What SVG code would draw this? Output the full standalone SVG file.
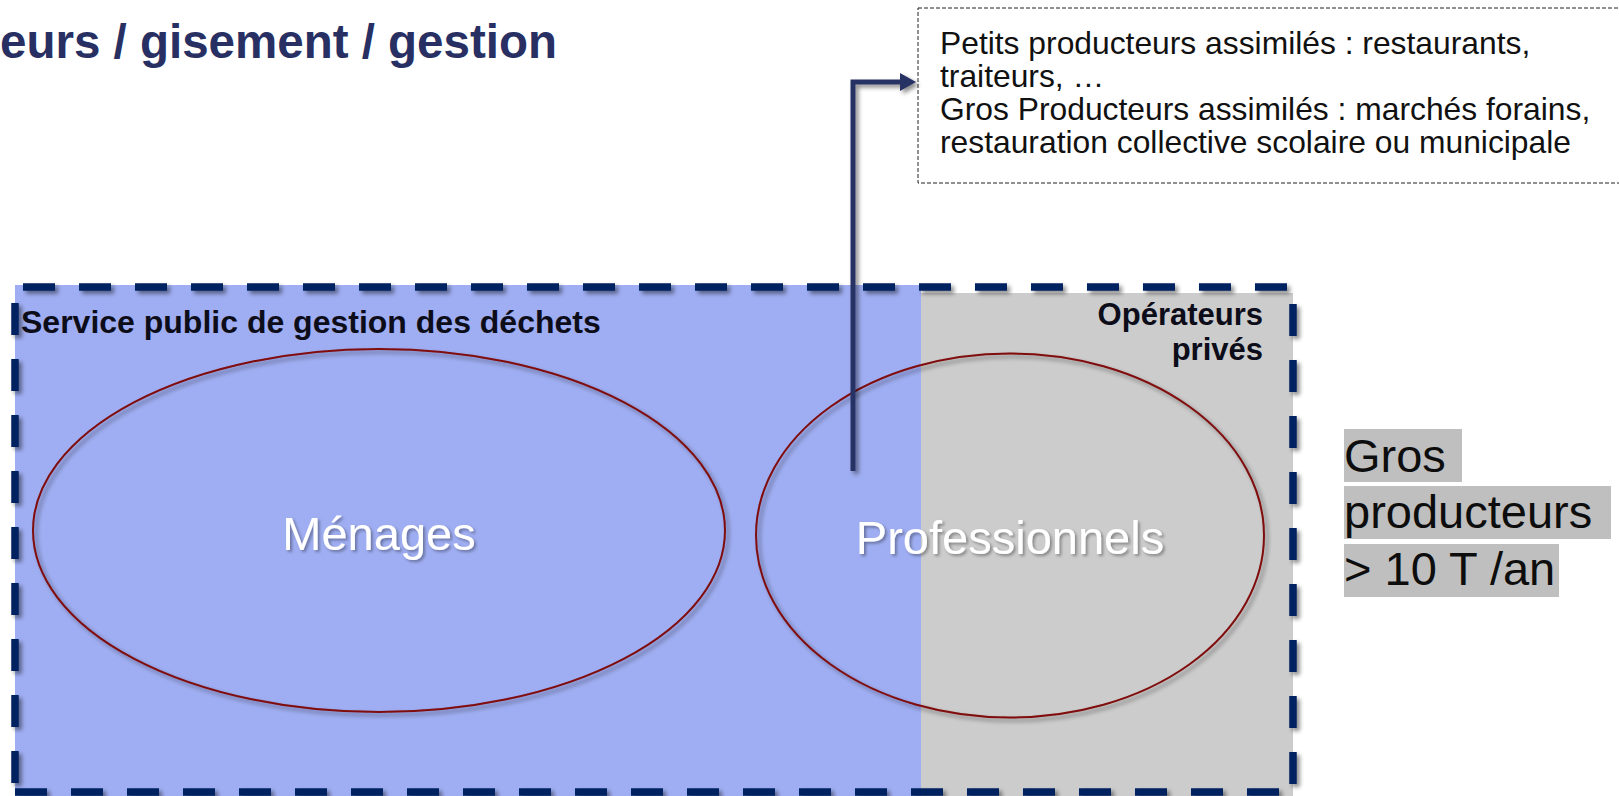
<svg xmlns="http://www.w3.org/2000/svg" width="1619" height="796" viewBox="0 0 1619 796">
<defs>
<style>
.title{font-family:"Liberation Sans",Arial,sans-serif;font-weight:bold;font-size:47.5px;fill:#283063}
.lbl{font-family:"Liberation Sans",Arial,sans-serif;font-weight:bold;fill:#0d0d1a}
.big{font-family:"Liberation Sans",Arial,sans-serif;font-size:47px;fill:#ffffff;text-anchor:middle}
.note{font-family:"Liberation Sans",Arial,sans-serif;font-size:31.8px;fill:#111111}
.gros{font-family:"Liberation Sans",Arial,sans-serif;font-size:47px;fill:#0d0d0d}
.dash{fill:none;stroke:#002060;stroke-width:7.5;stroke-dasharray:32 24}
.ell{fill:none;stroke:#7f0a0a;stroke-width:2}
</style>
<filter id="sh" x="-10%" y="-10%" width="120%" height="120%">
<feDropShadow dx="3" dy="3" stdDeviation="2" flood-color="#000" flood-opacity="0.45"/>
</filter>
<filter id="tsh" x="-10%" y="-20%" width="120%" height="140%">
<feDropShadow dx="2" dy="2" stdDeviation="1.5" flood-color="#000" flood-opacity="0.35"/>
</filter>
</defs>
<rect width="1619" height="796" fill="#ffffff"/>
<text class="title" x="557" y="58" text-anchor="end">eurs / gisement / gestion</text>

<g id="zone-public">
<rect x="15" y="285" width="906" height="511" fill="#9faef2"/>
</g>
<g id="zone-prive">
<rect x="921" y="293" width="372" height="503" fill="#cccccc"/>
</g>
<g id="frame" filter="url(#sh)">
<line class="dash" x1="23" y1="287" x2="1293" y2="287"/>
<line class="dash" x1="15" y1="792" x2="1293" y2="792"/>
<line class="dash" x1="15" y1="303" x2="15" y2="796"/>
<line class="dash" x1="1293" y1="304" x2="1293" y2="796"/>
</g>
<g id="label-public">
<text class="lbl" x="21" y="333" font-size="32">Service public de gestion des déchets</text>
</g>
<g id="label-prive">
<text class="lbl" x="1263" y="325" font-size="31" text-anchor="end">Opérateurs</text>
<text class="lbl" x="1263" y="360" font-size="31" text-anchor="end">privés</text>
</g>
<g id="menages">
<ellipse class="ell" cx="379" cy="530.5" rx="346" ry="181.5" filter="url(#sh)"/>
<text class="big" x="379" y="550" filter="url(#tsh)">Ménages</text>
</g>
<g id="professionnels">
<ellipse class="ell" cx="1010" cy="535.5" rx="254" ry="182" filter="url(#sh)"/>
<text class="big" x="1010" y="554" filter="url(#tsh)">Professionnels</text>
</g>
<g id="note">
<rect x="918" y="8" width="720" height="175" fill="#ffffff" stroke="#222222" stroke-width="1" stroke-dasharray="4 2"/>
<text class="note" x="940" y="54">Petits producteurs assimilés : restaurants,</text>
<text class="note" x="940" y="87">traiteurs, …</text>
<text class="note" x="940" y="120">Gros Producteurs assimilés : marchés forains,</text>
<text class="note" x="940" y="153">restauration collective scolaire ou municipale</text>
</g>
<g id="connectors" filter="url(#sh)">
<polyline points="853,471 853,82 902,82" fill="none" stroke="#283063" stroke-width="5" stroke-linejoin="miter"/>
<polygon points="900,73 916,82 900,91" fill="#283063"/>
</g>
<g id="gros-producteurs">
<rect x="1344" y="429" width="118" height="53" fill="#bfbfbf"/>
<rect x="1344" y="486" width="267" height="53" fill="#bfbfbf"/>
<rect x="1344" y="544" width="215" height="53" fill="#bfbfbf"/>
<text class="gros" x="1344" y="472">Gros </text>
<text class="gros" x="1344" y="528">producteurs </text>
<text class="gros" x="1344" y="585">&gt; 10 T /an</text>
</g>
</svg>
